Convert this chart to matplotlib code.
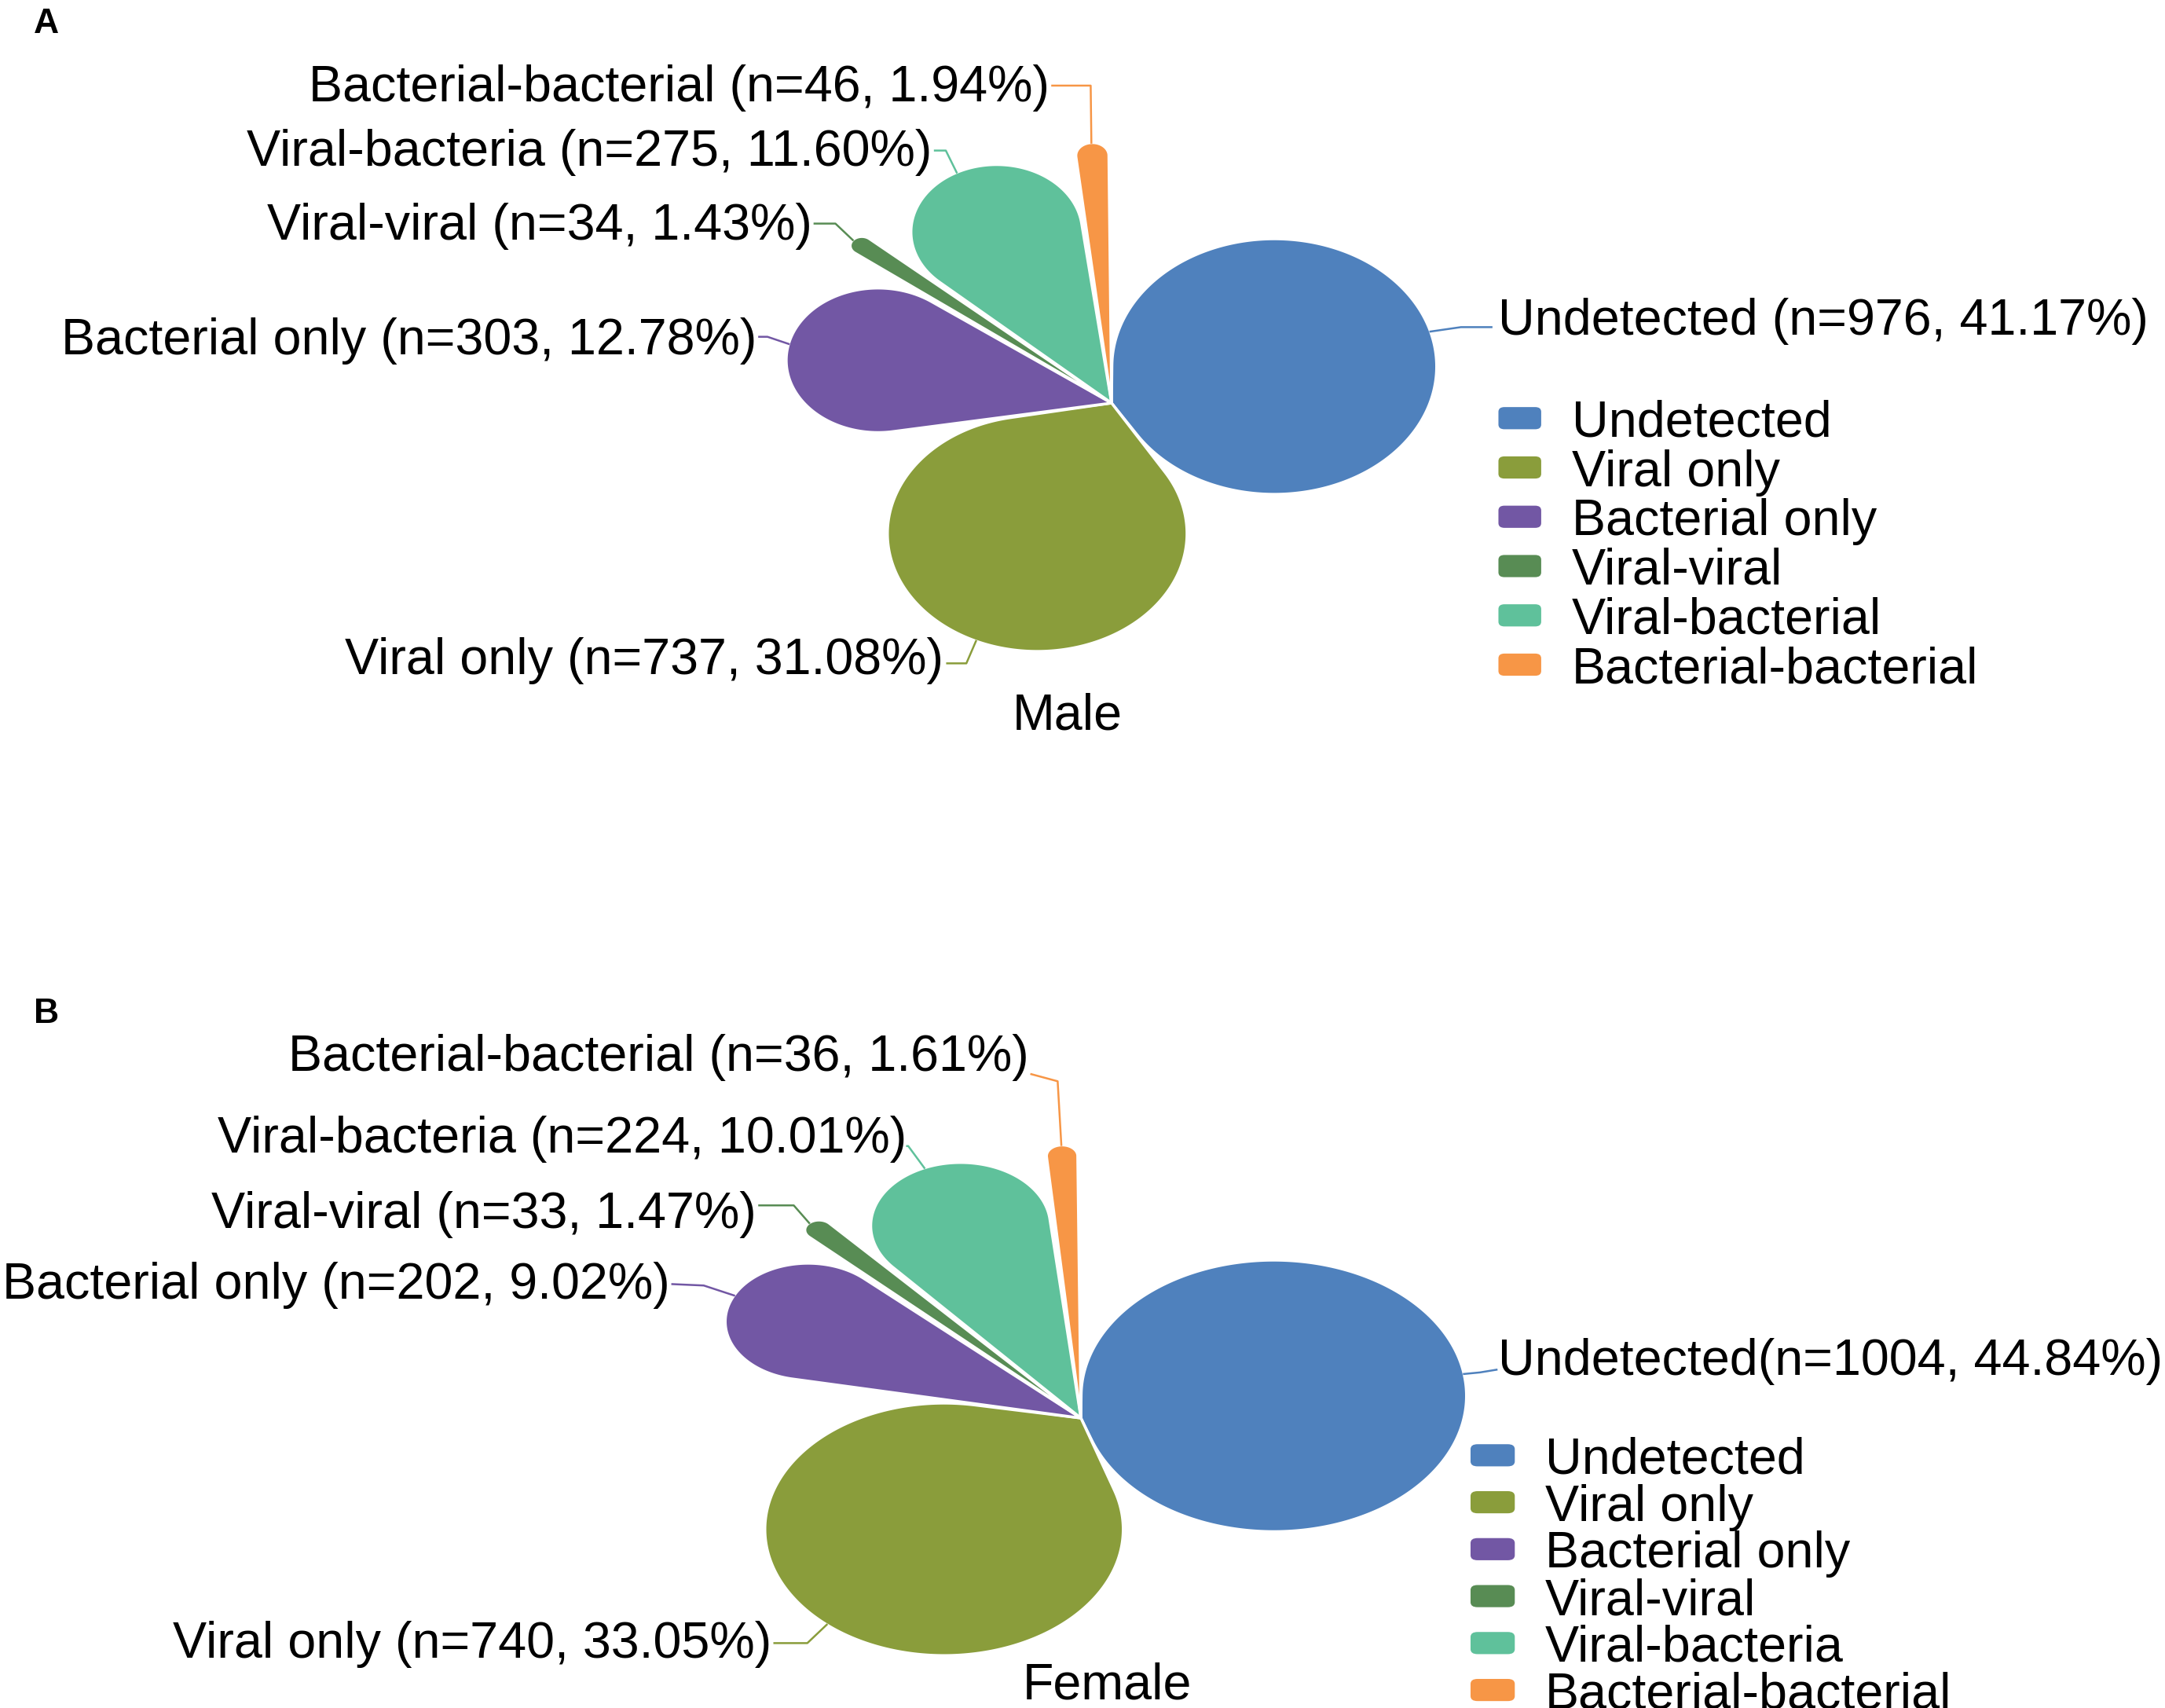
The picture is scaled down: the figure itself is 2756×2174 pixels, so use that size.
import numpy as np
import matplotlib.pyplot as plt
from matplotlib.patches import Polygon, FancyBboxPatch

plt.rcParams['font.family'] = ['Liberation Sans', 'DejaVu Sans']

# ---------------- data ----------------
categories = ['Undetected', 'Viral only', 'Bacterial only',
              'Viral-viral', 'Viral-bacterial', 'Bacterial-bacterial']
label_names = ['Undetected', 'Viral only', 'Bacterial only',
               'Viral-viral', 'Viral-bacteria', 'Bacterial-bacterial']
female_legend = ['Undetected', 'Viral only', 'Bacterial only',
                 'Viral-viral', 'Viral-bacteria', 'Bacterial-bacterial']
colors = ['#4F81BD', '#8A9D3B', '#7257A4', '#588C54', '#5FC19B', '#F79646']

male_n = [976, 737, 303, 34, 275, 46]
male_pct = [41.17, 31.08, 12.78, 1.43, 11.60, 1.94]
female_n = [1004, 740, 202, 33, 224, 36]
female_pct = [44.84, 33.05, 9.02, 1.47, 10.01, 1.61]

male_labels = [f'{c} (n={n}, {p:.2f}%)' for c, n, p in zip(label_names, male_n, male_pct)]
female_labels = [f'{c} (n={n}, {p:.2f}%)' for c, n, p in zip(label_names, female_n, female_pct)]
female_labels[0] = female_labels[0].replace(' (', '(')

# ---------------- layout (units of petal radius) ----------------
# text anchor, elbow of leader, end of leader at the text
male_text = [(1.167, 0.333), (-0.508, -0.968), (-1.071, 0.259),
             (-0.904, 0.698), (-0.542, 0.979), (-0.188, 1.228)]
male_elbow = [(1.054, 0.291), (-0.438, -0.998), (-1.038, 0.254),
              (-0.833, 0.688), (-0.500, 0.968), (-0.063, 1.217)]
male_end = [(1.146, 0.291), (-0.496, -0.998), (-1.063, 0.254),
            (-0.896, 0.688), (-0.533, 0.968), (-0.179, 1.217)]

female_text = [(1.075, 0.227), (-0.797, -0.808), (-1.060, 0.505),
               (-0.836, 0.763), (-0.448, 1.040), (-0.135, 1.338)]
female_elbow = [(1.028, 0.167), (-0.705, -0.823), (-0.972, 0.485),
                (-0.740, 0.778), (-0.445, 0.995), (-0.060, 1.232)]
female_end = [(1.071, 0.177), (-0.790, -0.823), (-1.053, 0.490),
              (-0.829, 0.778), (-0.448, 0.995), (-0.128, 1.258)]

W, H = 2756, 2174
FS = 46.5

fig = plt.figure(figsize=(W / 100, H / 100), dpi=100)


def petal_axes(cx, cy, rx, ry, half=1.45):
    w, h = 2 * half * rx, 2 * half * ry
    ax = fig.add_axes([(cx - w / 2) / W, 1 - (cy + h / 2) / H, w / W, h / H])
    ax.set_xlim(-half, half)
    ax.set_ylim(-half, half)
    ax.axis('off')
    ax.patch.set_visible(False)
    return ax


def draw_petals(ax, counts, gap=0.5):
    fr = np.array(counts) / np.sum(counts)
    spans = fr * 360
    ends = 90 - np.cumsum(spans)
    mids = ends + spans / 2
    for m, sp, col in zip(mids, spans, colors):
        a = np.radians(max(sp / 2 - gap, 0.3))
        s = np.sin(a)
        d = 1 / (1 + s)
        rho = s / (1 + s)
        mr = np.radians(m)
        c = d * np.array([np.cos(mr), np.sin(mr)])
        phi = np.linspace(mr - a - np.pi / 2, mr + a + np.pi / 2, 300)
        arc = c[:, None] + rho * np.vstack([np.cos(phi), np.sin(phi)])
        pts = np.vstack([[0, 0], arc.T])
        ax.add_patch(Polygon(pts, closed=True, fc=col, ec='white', lw=2.5,
                             joinstyle='round'))
    return mids


def draw_labels(ax, mids, labels, text_xy, elbow_xy, end_xy):
    for i, (m, lab) in enumerate(zip(mids, labels)):
        mr = np.radians(m)
        tip = (np.cos(mr), np.sin(mr))
        xs = [tip[0], elbow_xy[i][0], end_xy[i][0]]
        ys = [tip[1], elbow_xy[i][1], end_xy[i][1]]
        ax.plot(xs, ys, color=colors[i], lw=1.8, clip_on=False)
        ha = 'left' if text_xy[i][0] > 0 else 'right'
        ax.text(text_xy[i][0], text_xy[i][1], lab, ha=ha, va='center_baseline',
                fontsize=FS, clip_on=False)


def draw_legend(ax, names, x0, y0, step, bw, bh, tx):
    for i, (nm, col) in enumerate(zip(names, colors)):
        y = y0 - i * step
        ax.add_patch(FancyBboxPatch((x0, y - bh / 2), bw, bh,
                                    boxstyle='round,pad=0,rounding_size=0.018',
                                    fc=col, ec='none', clip_on=False))
        ax.text(tx, y, nm, ha='left', va='center_baseline', fontsize=FS, clip_on=False)


# ---------------- A: male ----------------
ax1 = petal_axes(1415, 513, 422, 332)
mids1 = draw_petals(ax1, male_n)
draw_labels(ax1, mids1, male_labels, male_text, male_elbow, male_end)
draw_legend(ax1, categories, 1.167, -0.058, 0.189, 0.129, 0.085, 1.3875)
ax1.text(-0.133, -1.18, 'Male', ha='center', va='center_baseline', fontsize=FS)

# ---------------- B: female ----------------
ax2 = petal_axes(1376, 1805, 494, 348)
mids2 = draw_petals(ax2, female_n)
draw_labels(ax2, mids2, female_labels, female_text, female_elbow, female_end)
draw_legend(ax2, female_legend, 1.004, -0.136, 0.1717, 0.114, 0.081, 1.196)
ax2.text(0.068, -0.96, 'Female', ha='center', va='center_baseline', fontsize=FS)

fig.text(43 / W, 1 - 42 / H, 'A', fontsize=32, fontweight='bold', ha='left', va='baseline')
fig.text(43 / W, 1 - 1302 / H, 'B', fontsize=32, fontweight='bold', ha='left', va='baseline')

fig.savefig('out.png', dpi=100, facecolor='white')
